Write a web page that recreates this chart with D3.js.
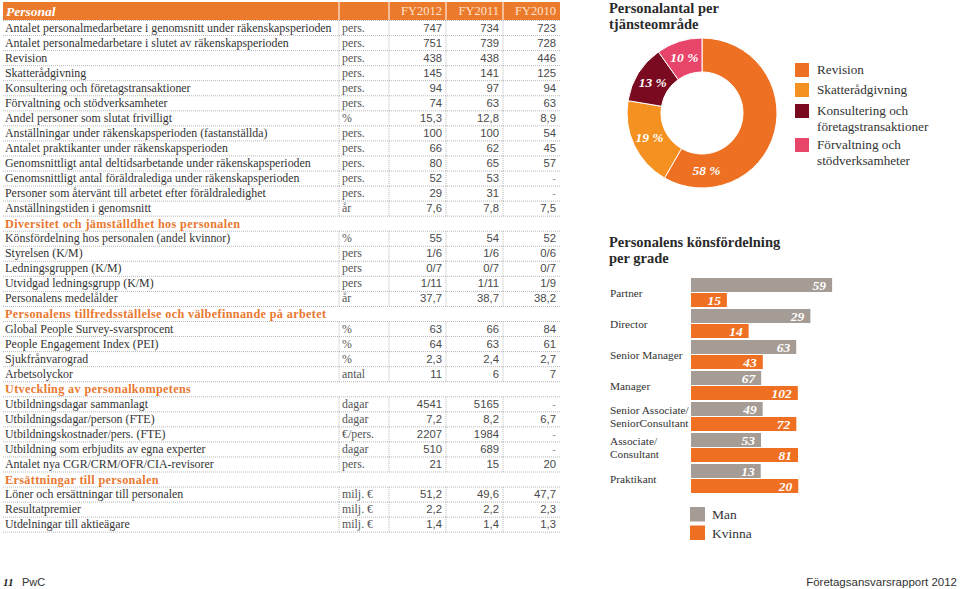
<!DOCTYPE html>
<html><head><meta charset="utf-8">
<script src="https://cdn.jsdelivr.net/npm/d3@7"></script>
<style>
html,body{margin:0;padding:0;background:#fff;}
svg{display:block;}
</style></head>
<body>
<svg id="chart" width="960" height="589"></svg>
<script>
// ---------- DATA ----------
const tableTitle = "Personal";
const years = ["FY2012", "FY2011", "FY2010"];
const rowLabels = [
  "Antalet personalmedarbetare i genomsnitt under räkenskapsperioden",
  "Antalet personalmedarbetare i slutet av räkenskapsperioden",
  "Revision", "Skatterådgivning", "Konsultering och företagstransaktioner", "Förvaltning och stödverksamheter",
  "Andel personer som slutat frivilligt",
  "Anställningar under räkenskapsperioden (fastanställda)",
  "Antalet praktikanter under räkenskapsperioden",
  "Genomsnittligt antal deltidsarbetande under räkenskapsperioden",
  "Genomsnittligt antal föräldralediga under räkenskapsperioden",
  "Personer som återvänt till arbetet efter föräldraledighet",
  "Anställningstiden i genomsnitt",
  "Diversitet och jämställdhet hos personalen",
  "Könsfördelning hos personalen (andel kvinnor)",
  "Styrelsen (K/M)", "Ledningsgruppen (K/M)", "Utvidgad ledningsgrupp (K/M)", "Personalens medelålder",
  "Personalens tillfredsställelse och välbefinnande på arbetet",
  "Global People Survey-svarsprocent", "People Engagement Index (PEI)", "Sjukfrånvarograd", "Arbetsolyckor",
  "Utveckling av personalkompetens",
  "Utbildningsdagar sammanlagt", "Utbildningsdagar/person (FTE)", "Utbildningskostnader/pers. (FTE)",
  "Utbildning som erbjudits av egna experter", "Antalet nya CGR/CRM/OFR/CIA-revisorer",
  "Ersättningar till personalen",
  "Löner och ersättningar till personalen", "Resultatpremier", "Utdelningar till aktieägare"
];
// null unit marks a section heading row
const rowUnits = ["pers.","pers.","pers.","pers.","pers.","pers.","%","pers.","pers.","pers.","pers.","pers.","år",
  null,"%","pers","pers","pers","år",
  null,"%","%","%","antal",
  null,"dagar","dagar","€/pers.","dagar","pers.",
  null,"milj. €","milj. €","milj. €"];
const fy2012 = ["747","751","438","145","94","74","15,3","100","66","80","52","29","7,6",
  null,"55","1/6","0/7","1/11","37,7",
  null,"63","64","2,3","11",
  null,"4541","7,2","2207","510","21",
  null,"51,2","2,2","1,4"];
const fy2011 = ["734","739","438","141","97","63","12,8","100","62","65","53","31","7,8",
  null,"54","1/6","0/7","1/11","38,7",
  null,"66","63","2,4","6",
  null,"5165","8,2","1984","689","15",
  null,"49,6","2,2","1,4"];
const fy2010 = ["723","728","446","125","94","63","8,9","54","45","57","-","-","7,5",
  null,"52","0/6","0/7","1/9","38,2",
  null,"84","61","2,7","7",
  null,"-","6,7","-","-","20",
  null,"47,7","2,3","1,3"];

const pieTitle = ["Personalantal per", "tjänsteområde"];
const serviceAreas = ["Revision", "Skatterådgivning", "Konsultering och företagstransaktioner", "Förvaltning och stödverksamheter"];
const serviceLegendLines = [["Revision"], ["Skatterådgivning"], ["Konsultering och", "företagstransaktioner"], ["Förvaltning och", "stödverksamheter"]];
const serviceCounts = [438, 145, 94, 74];

const barTitle = ["Personalens könsfördelning", "per grade"];
const grades = [["Partner"], ["Director"], ["Senior Manager"], ["Manager"], ["Senior Associate/", "SeniorConsultant"], ["Associate/", "Consultant"], ["Praktikant"]];
const men = [59, 29, 63, 67, 49, 53, 13];
const women = [15, 14, 43, 102, 72, 81, 20];
const genderLabels = ["Man", "Kvinna"];

const footerLeftNum = "11", footerLeftText = "PwC", footerRight = "Företagsansvarsrapport 2012";

// ---------- STYLE ----------
const ORANGE = "#ec7a2c", HEAD_ORANGE = "#e9782f", TEXT = "#333333", NUM = "#4a4a4a", LINE = "#b8b8b8";
const SERIF = "'Liberation Serif', 'DejaVu Serif', serif";
const SANS = "'Liberation Sans', Arial, sans-serif";
const pieColors = ["#ee7023", "#f59120", "#7a0a1f", "#e8456b"];
const genderColors = ["#a59c95", "#ef7022"];

const svg = d3.select("#chart");

// fit table label font so the longest label spans the same width as in the original layout
const probe = svg.append("text").attr("font-family", SERIF).attr("font-size", 10).text(rowLabels[0]);
const probeW = probe.node().getComputedTextLength() || 262;
probe.remove();
const LABEL_SIZE = Math.min(13, 10 * 327 / probeW);

// ---------- TABLE ----------
const tbl = svg.append("g");
const tLeft = 3, tRight = 560;
const colEdges = [339, 389, 446, 503, 560];
const rowY = d3.scaleLinear().domain([0, rowLabels.length]).range([20.5, 20.5 + 15.05 * rowLabels.length]);

// header bar
tbl.append("rect").attr("x", tLeft).attr("y", 2).attr("width", tRight - tLeft).attr("height", 18).attr("fill", ORANGE);
colEdges.slice(0, 4).forEach(x => tbl.append("line").attr("x1", x).attr("x2", x).attr("y1", 2).attr("y2", 20)
  .attr("stroke", "#fff").attr("stroke-width", 1));
tbl.append("text").attr("x", 6).attr("y", 15.5).text(tableTitle)
  .attr("font-family", SERIF).attr("font-size", 13.5).attr("font-weight", "bold").attr("font-style", "italic").attr("fill", "#fff");
years.forEach((y, i) => tbl.append("text").attr("x", colEdges[i + 2] - 4).attr("y", 15).attr("text-anchor", "end")
  .text(y).attr("font-family", SERIF).attr("font-size", 12.5).attr("fill", "#fde3cf"));

// horizontal dotted lines
d3.range(rowLabels.length + 1).forEach(k => {
  tbl.append("line").attr("x1", tLeft).attr("x2", tRight).attr("y1", rowY(k)).attr("y2", rowY(k))
    .attr("stroke", LINE).attr("stroke-width", 1).attr("stroke-dasharray", "1,1");
});

const valueCols = [fy2012, fy2011, fy2010];
rowLabels.forEach((lab, i) => {
  const top = rowY(i), bot = rowY(i + 1);
  const base = top + 11;
  const isHead = rowUnits[i] === null;
  if (isHead) {
    tbl.append("text").attr("x", 5).attr("y", base + 0.5).text(lab)
      .attr("font-family", SERIF).attr("font-size", 12.2).attr("font-weight", "bold")
      .attr("letter-spacing", 0.35).attr("fill", HEAD_ORANGE);
    return;
  }
  colEdges.slice(0, 4).forEach(x => tbl.append("line").attr("x1", x).attr("x2", x).attr("y1", top).attr("y2", bot)
    .attr("stroke", LINE).attr("stroke-dasharray", "1,1"));
  tbl.append("text").attr("x", 5).attr("y", base).text(lab)
    .attr("font-family", SERIF).attr("font-size", LABEL_SIZE).attr("fill", TEXT);
  tbl.append("text").attr("x", colEdges[0] + 3).attr("y", base).text(rowUnits[i])
    .attr("font-family", SERIF).attr("font-size", LABEL_SIZE).attr("fill", "#555");
  valueCols.forEach((col, c) => {
    const v = col[i];
    tbl.append("text").attr("x", colEdges[c + 2] - 4).attr("y", base).attr("text-anchor", "end").text(v)
      .attr("font-family", SANS).attr("font-size", 11.3).attr("fill", v === "-" ? "#999" : NUM);
  });
});

// ---------- PIE ----------
const pieG = svg.append("g");
pieTitle.forEach((t, i) => pieG.append("text").attr("x", 609).attr("y", 13 + i * 16).text(t)
  .attr("font-family", SERIF).attr("font-size", 14.5).attr("font-weight", "bold").attr("fill", "#2a2a2a"));

const cx = 702, cy = 113, rOut = 75, rIn = 41;
const pie = d3.pie().sort(null).value(d => d);
const arcs = pie(serviceCounts);
const arc = d3.arc().innerRadius(rIn).outerRadius(rOut);
const total = d3.sum(serviceCounts);
const pg = pieG.append("g").attr("transform", `translate(${cx},${cy})`);
pg.selectAll("path").data(arcs).join("path").attr("d", arc)
  .attr("fill", (d, i) => pieColors[i]).attr("stroke", "#fff").attr("stroke-width", 1);
pg.selectAll("text").data(arcs).join("text")
  .attr("transform", d => {
    // large slice: label placed toward the bottom of the slice
    const a = (d.endAngle - d.startAngle) > Math.PI ? d.endAngle - 0.6 : (d.startAngle + d.endAngle) / 2;
    const r = (rIn + rOut) / 2;
    return `translate(${r * Math.sin(a)},${-r * Math.cos(a) + 4.5})`;
  })
  .attr("text-anchor", "middle").text(d => Math.round(d.data / total * 100) + " %")
  .attr("font-family", SERIF).attr("font-size", 13.5).attr("font-weight", "bold").attr("font-style", "italic").attr("fill", "#fff");

// legend
const legTop = [63, 83, 104, 138];
serviceAreas.forEach((s, i) => {
  pieG.append("rect").attr("x", 795).attr("y", legTop[i]).attr("width", 14).attr("height", 14).attr("fill", pieColors[i]);
  serviceLegendLines[i].forEach((ln, j) => pieG.append("text").attr("x", 817).attr("y", legTop[i] + 11 + j * 15.5).text(ln)
    .attr("font-family", SERIF).attr("font-size", 13.2).attr("fill", TEXT));
});

// ---------- BARS ----------
const barG = svg.append("g");
barTitle.forEach((t, i) => barG.append("text").attr("x", 609).attr("y", 247 + i * 16).text(t)
  .attr("font-family", SERIF).attr("font-size", 14.5).attr("font-weight", "bold").attr("fill", "#2a2a2a"));

const x0 = 691;
const xs = d3.scaleLinear().domain([0, 1]).range([0, 177]);
const gy = d3.scaleBand().domain(d3.range(grades.length)).range([278, 278 + 31 * grades.length]).paddingInner(0).paddingOuter(0);
const barH = 14;
grades.forEach((g, i) => {
  const tot = men[i] + women[i];
  const top = gy(i);
  [men[i], women[i]].forEach((v, k) => {
    const y = top + k * (barH + 1);
    const w = xs(v / tot);
    barG.append("rect").attr("x", x0).attr("y", y).attr("width", w).attr("height", barH).attr("fill", genderColors[k]);
    barG.append("text").attr("x", x0 + w - 6).attr("y", y + 11.5).attr("text-anchor", "end").text(v)
      .attr("font-family", SERIF).attr("font-size", 13.5).attr("font-weight", "bold").attr("font-style", "italic").attr("fill", "#fff");
  });
  const mid = top + barH + 0.5;
  const n = g.length;
  g.forEach((ln, j) => barG.append("text").attr("x", 610).attr("y", mid + 4 + (j - (n - 1) / 2) * 12.5).text(ln)
    .attr("font-family", SERIF).attr("font-size", 11.3).attr("fill", TEXT));
});
genderLabels.forEach((l, k) => {
  barG.append("rect").attr("x", 690).attr("y", 507 + k * 18.5).attr("width", 15).attr("height", 14.5).attr("fill", genderColors[k]);
  barG.append("text").attr("x", 712).attr("y", 519 + k * 18.5).text(l)
    .attr("font-family", SERIF).attr("font-size", 13.5).attr("fill", TEXT);
});

// ---------- FOOTER ----------
svg.append("text").attr("x", 3).attr("y", 586).text(footerLeftNum)
  .attr("font-family", SERIF).attr("font-size", 11).attr("font-weight", "bold").attr("font-style", "italic").attr("fill", "#222");
svg.append("text").attr("x", 22).attr("y", 586).text(footerLeftText)
  .attr("font-family", SANS).attr("font-size", 11).attr("fill", "#333");
svg.append("text").attr("x", 957).attr("y", 586).attr("text-anchor", "end").text(footerRight)
  .attr("font-family", SANS).attr("font-size", 11.5).attr("fill", "#333");
</script>
</body></html>
